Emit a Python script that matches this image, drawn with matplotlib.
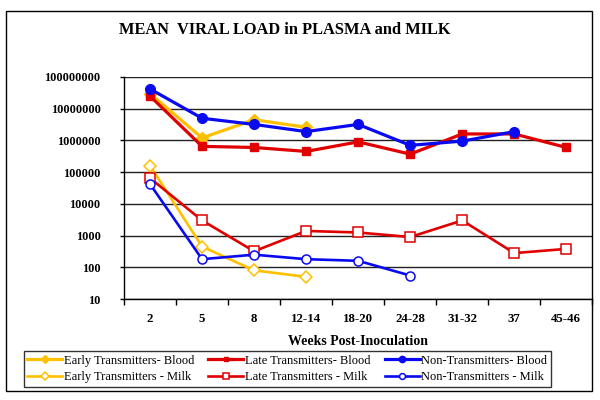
import matplotlib
matplotlib.use("Agg")
import matplotlib.pyplot as plt
import numpy as np
from matplotlib.patches import Rectangle
from matplotlib.ticker import FixedLocator, NullFormatter

plt.rcParams['font.family'] = ['Liberation Serif', 'DejaVu Serif']

weeks = ["2", "5", "8", "12-14", "18-20", "24-28", "31-32", "37", "45-46"]

# mean viral load (copies/ml)
early_blood = [3.0e7, 1.2e6, 4.5e6, 2.6e6]
late_blood = [2.5e7, 6.5e5, 6.0e5, 4.5e5, 9.0e5, 3.7e5, 1.6e6, 1.6e6, 6.0e5]
non_blood = [4.2e7, 5.0e6, 3.2e6, 1.9e6, 3.2e6, 7.0e5, 9.5e5, 1.9e6]
early_milk = [1.6e5, 450, 80, 50]
late_milk = [6.5e4, 3000, 320, 1400, 1250, 900, 3000, 280, 380]
non_milk = [4.2e4, 180, 250, 180, 160, 55]

yellow = "#FFC000"
red = "#E00000"
blue = "#0A0AF0"

fig = plt.figure(figsize=(6, 4), dpi=100)
ax = fig.add_axes([0.2067, 0.2525, 0.7805, 0.555])

x = np.arange(len(weeks))

h = []
h.append(ax.plot(x[:len(early_blood)], early_blood, color=yellow, lw=2.3, marker="D",
                 ms=6.5, mfc=yellow, mec=yellow, label="Early Transmitters- Blood")[0])
h.append(ax.plot(x[:len(late_blood)], late_blood, color=red, lw=2.3, marker="s",
                 ms=5.5, mfc=red, mec=red, label="Late Transmitters- Blood")[0])
h.append(ax.plot(x[:len(non_blood)], non_blood, color=blue, lw=2.3, marker="o",
                 ms=7, mfc=blue, mec=blue, label="Non-Transmitters- Blood")[0])
h.append(ax.plot(x[:len(early_milk)], early_milk, color=yellow, lw=1.9, marker="D",
                 ms=6.5, mfc="white", mec=yellow, mew=1.1, label="Early Transmitters - Milk")[0])
h.append(ax.plot(x[:len(late_milk)], late_milk, color=red, lw=1.9, marker="s",
                 ms=6.5, mfc="white", mec=red, mew=1.1, label="Late Transmitters - Milk")[0])
h.append(ax.plot(x[:len(non_milk)], non_milk, color=blue, lw=1.9, marker="o",
                 ms=6.5, mfc="white", mec=blue, mew=1.1, label="Non-Transmitters - Milk")[0])

ax.set_yscale("log")
ax.set_ylim(10, 1e8)
ax.set_xlim(-0.5, len(weeks) - 0.5)

yt = [10 ** k for k in range(1, 9)]
ax.yaxis.set_major_locator(FixedLocator(yt))
ax.yaxis.set_minor_locator(FixedLocator([]))
ax.set_yticklabels([str(v) for v in yt], fontweight="bold", fontsize=8.8)
ax.grid(axis="y", color="#222222", lw=1)
ax.set_axisbelow(True)

ax.xaxis.set_major_locator(FixedLocator(np.arange(len(weeks) + 1) - 0.5))
ax.xaxis.set_major_formatter(NullFormatter())
ax.xaxis.set_minor_locator(FixedLocator(x))
ax.set_xticklabels(weeks, minor=True, fontweight="bold", fontsize=9.3)
ax.tick_params(axis="x", which="minor", length=0, pad=10)
ax.tick_params(axis="x", which="major", length=4, direction="out", width=1)
ax.tick_params(axis="y", length=3, direction="out", width=1, pad=14)

for s in ["top", "right"]:
    ax.spines[s].set_visible(False)
ax.spines["left"].set_linewidth(1)
ax.spines["bottom"].set_linewidth(1)

ax.set_xlabel("Weeks Post-Inoculation", fontweight="bold", fontsize=10, labelpad=7)
fig.text(0.475, 0.925, "MEAN  VIRAL LOAD in PLASMA and MILK", ha="center", va="center",
         fontweight="bold", fontsize=11.8)

order = [0, 3, 1, 4, 2, 5]
leg = fig.legend([h[i] for i in order], [h[i].get_label() for i in order], ncol=3,
                 loc="center", bbox_to_anchor=(0.4791, 0.078), fontsize=9,
                 frameon=True, fancybox=False, edgecolor="black", handlelength=2.8,
                 handletextpad=0.15, columnspacing=1.1, labelspacing=0.35,
                 borderpad=0.3, borderaxespad=0, markerscale=0.65)
leg.get_frame().set_linewidth(1)

fig.patches.append(Rectangle((0.01, 0.022), 0.977, 0.9505, transform=fig.transFigure,
                             fill=False, edgecolor="black", lw=1))

fig.savefig("out.png", dpi=100)
